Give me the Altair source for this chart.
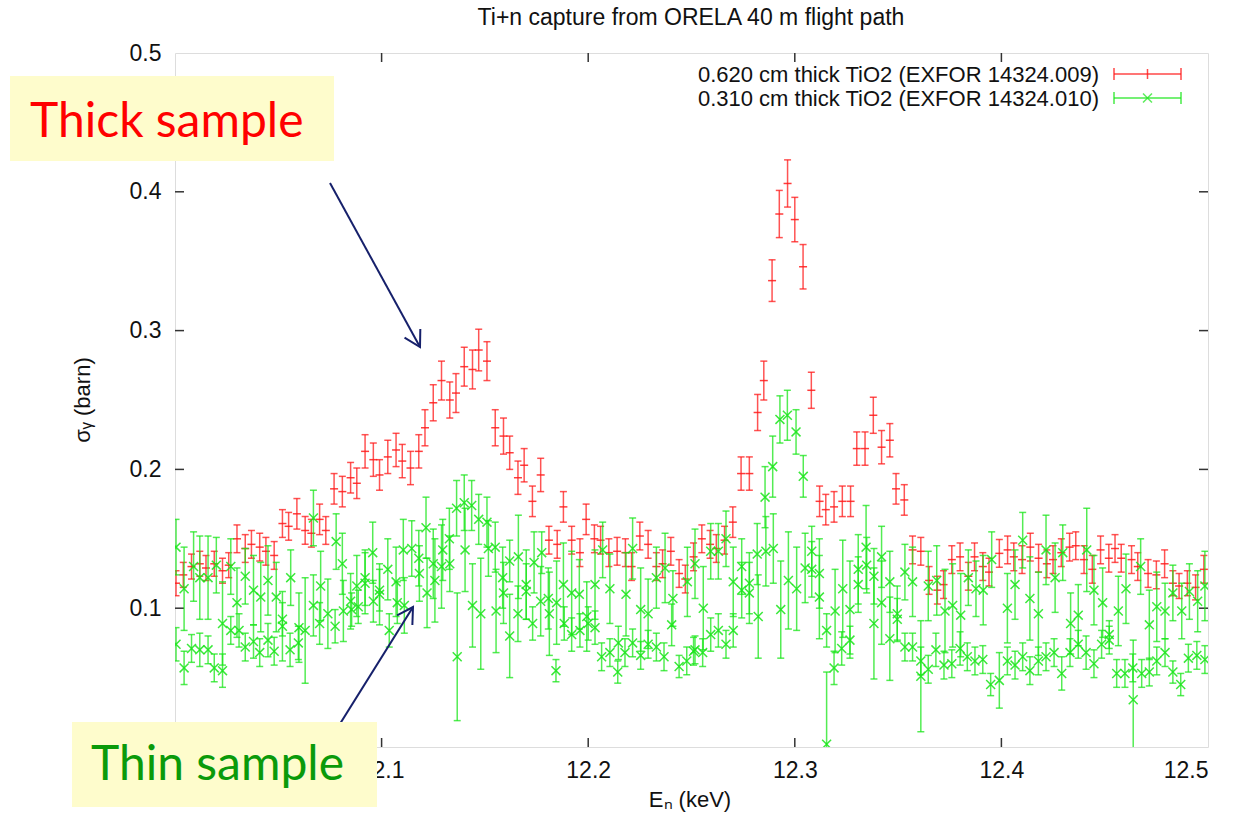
import altair as alt
import pandas as pd

# ---------------- data ----------------
red_E = [12.0005, 12.004, 12.008, 12.012, 12.015, 12.019, 12.023, 12.026, 12.030, 12.034,
         12.037, 12.041, 12.044, 12.048, 12.052, 12.055, 12.059, 12.063, 12.066, 12.070,
         12.073, 12.077, 12.081, 12.085, 12.088, 12.092, 12.096, 12.099, 12.103, 12.107,
         12.110, 12.114, 12.118, 12.121, 12.125, 12.129, 12.133, 12.136, 12.140, 12.144,
         12.147, 12.151, 12.155, 12.159, 12.162, 12.166, 12.169, 12.173, 12.177, 12.181,
         12.185, 12.188, 12.192, 12.196, 12.199, 12.203, 12.206, 12.210, 12.214, 12.218,
         12.221, 12.225, 12.229, 12.233, 12.236, 12.240, 12.244, 12.247, 12.251, 12.255,
         12.259, 12.262, 12.266, 12.270, 12.274, 12.278, 12.282, 12.285, 12.289, 12.2925,
         12.2965, 12.300, 12.304, 12.308, 12.312, 12.315, 12.319, 12.323, 12.327, 12.330,
         12.334, 12.338, 12.342, 12.346, 12.349, 12.353, 12.357, 12.361, 12.365, 12.369,
         12.372, 12.376, 12.380, 12.384, 12.387, 12.391, 12.394, 12.399, 12.403, 12.406,
         12.410, 12.414, 12.418, 12.422, 12.425, 12.429, 12.433, 12.436, 12.440, 12.444,
         12.448, 12.452, 12.455, 12.458, 12.463, 12.466, 12.471, 12.475, 12.479, 12.483,
         12.486, 12.490, 12.494, 12.498]
red_s = [0.118, 0.124, 0.130, 0.132, 0.129, 0.132, 0.127, 0.131, 0.150, 0.143,
         0.146, 0.144, 0.141, 0.138, 0.161, 0.159, 0.168, 0.156, 0.154, 0.164,
         0.156, 0.186, 0.184, 0.194, 0.190, 0.213, 0.207, 0.196, 0.209, 0.214,
         0.206, 0.201, 0.213, 0.230, 0.248, 0.264, 0.250, 0.255, 0.274, 0.272,
         0.286, 0.278, 0.230, 0.224, 0.212, 0.194, 0.203, 0.177, 0.196, 0.149,
         0.146, 0.173, 0.149, 0.140, 0.164, 0.150, 0.149, 0.140, 0.141, 0.140,
         0.130, 0.152, 0.146, 0.130, 0.132, 0.141, 0.125, 0.121, 0.137, 0.150,
         0.146, 0.143, 0.149, 0.162, 0.197, 0.197, 0.241, 0.264, 0.336, 0.384,
         0.406, 0.380, 0.346, 0.257, 0.177, 0.171, 0.173, 0.177, 0.177, 0.215,
         0.215, 0.239, 0.216, 0.221, 0.186, 0.178, 0.142, 0.141, 0.120, 0.113,
         0.117, 0.135, 0.137, 0.123, 0.137, 0.130, 0.126, 0.1395, 0.142, 0.137,
         0.135, 0.144, 0.136, 0.132, 0.135, 0.140, 0.144, 0.145, 0.135, 0.128,
         0.142, 0.136, 0.143, 0.136, 0.135, 0.130, 0.125, 0.124, 0.132, 0.118,
         0.116, 0.118, 0.115, 0.128]
red_err = [0.009, 0.009, 0.009, 0.009, 0.009, 0.009, 0.009, 0.009, 0.010, 0.010,
           0.010, 0.010, 0.010, 0.010, 0.010, 0.010, 0.011, 0.010, 0.010, 0.011,
           0.010, 0.011, 0.011, 0.011, 0.011, 0.012, 0.012, 0.011, 0.012, 0.012,
           0.012, 0.012, 0.012, 0.013, 0.013, 0.014, 0.013, 0.014, 0.014, 0.014,
           0.015, 0.014, 0.013, 0.013, 0.012, 0.012, 0.012, 0.011, 0.012, 0.010,
           0.010, 0.011, 0.010, 0.010, 0.011, 0.010, 0.010, 0.010, 0.010, 0.010,
           0.010, 0.010, 0.010, 0.010, 0.010, 0.010, 0.010, 0.010, 0.010, 0.010,
           0.010, 0.010, 0.010, 0.011, 0.012, 0.012, 0.013, 0.014, 0.015, 0.017,
           0.017, 0.016, 0.016, 0.013, 0.011, 0.011, 0.011, 0.011, 0.011, 0.012,
           0.012, 0.013, 0.012, 0.012, 0.011, 0.011, 0.010, 0.010, 0.010, 0.010,
           0.010, 0.010, 0.010, 0.010, 0.010, 0.010, 0.010, 0.010, 0.010, 0.010,
           0.010, 0.010, 0.010, 0.010, 0.010, 0.010, 0.010, 0.010, 0.010, 0.010,
           0.010, 0.010, 0.010, 0.010, 0.010, 0.010, 0.010, 0.010, 0.010, 0.009,
           0.009, 0.009, 0.009, 0.010]

green_E = [
    12.0005, 12.0005, 12.0044, 12.0044, 12.008, 12.009, 12.012, 12.012, 12.016, 12.016,
    12.019, 12.020, 12.023, 12.023, 12.027, 12.027, 12.030, 12.031, 12.034, 12.034,
    12.038, 12.038, 12.041, 12.0415, 12.045, 12.045, 12.048, 12.049, 12.052, 12.052,
    12.0557, 12.056, 12.0597, 12.060, 12.063, 12.067, 12.067, 12.070, 12.0705, 12.074,
    12.0775, 12.078, 12.081, 12.0815, 12.085, 12.0855, 12.088, 12.0887, 12.092, 12.092,
    12.0957, 12.096, 12.099, 12.099, 12.103, 12.1037, 12.107, 12.1076, 12.1105, 12.111,
    12.1146, 12.118, 12.1183, 12.122, 12.1215,
    12.1258, 12.125, 12.129, 12.1296, 12.1328, 12.133, 12.1363, 12.1366, 12.140, 12.1404,
    12.1436, 12.144, 12.147, 12.148, 12.151, 12.1517, 12.155, 12.1554, 12.1586, 12.159,
    12.162, 12.162, 12.166, 12.1662, 12.170, 12.170, 12.1731, 12.1738, 12.177, 12.1775,
    12.1807, 12.1812, 12.1844, 12.1847, 12.188, 12.1884, 12.192, 12.192, 12.1957, 12.196,
    12.1993, 12.200, 12.2033, 12.2033, 12.207, 12.2065, 12.2105, 12.2105, 12.2143, 12.2146,
    12.2183, 12.2178, 12.2215, 12.2215, 12.2254, 12.2254, 12.229, 12.229, 12.233, 12.233,
    12.2367, 12.2372, 12.2404, 12.241, 12.244, 12.2477, 12.248, 12.251,
    12.2517, 12.2517, 12.2557, 12.2554, 12.2593, 12.2593, 12.263, 12.263, 12.2667, 12.2667,
    12.2702, 12.2702, 12.2743, 12.2743, 12.278, 12.278, 12.2818, 12.2823, 12.2856, 12.286,
    12.2893, 12.2896, 12.2928, 12.2932, 12.2964, 12.2969, 12.3006, 12.3009, 12.3041, 12.305,
    12.3082, 12.3082, 12.3119, 12.3119, 12.3154, 12.3154, 12.319, 12.3195, 12.3227, 12.3232,
    12.3267, 12.3267, 12.3307, 12.3307, 12.3345, 12.3348, 12.3383, 12.3383, 12.342, 12.342,
    12.346, 12.346, 12.3496, 12.3496, 12.3533, 12.3533, 12.357, 12.357, 12.361, 12.361,
    12.3646, 12.3646, 12.3683, 12.3687, 12.3722, 12.3727, 12.376,
    12.3764, 12.380, 12.3803, 12.3835, 12.384, 12.3872, 12.3877, 12.391, 12.3912, 12.3948,
    12.3953, 12.399, 12.4029, 12.4029, 12.4066, 12.4066, 12.4103, 12.4103, 12.4138, 12.4138,
    12.4179, 12.4179, 12.4216, 12.4216, 12.4255, 12.426, 12.4292, 12.4297, 12.4332, 12.4335,
    12.4372, 12.4372, 12.441, 12.4413, 12.4448, 12.4448, 12.4485, 12.449, 12.4522, 12.4522,
    12.4558, 12.4566, 12.4598, 12.4603, 12.4636, 12.4638, 12.4674, 12.4679, 12.4716, 12.4716,
    12.4752, 12.4752, 12.4792, 12.4792, 12.483, 12.483, 12.4868, 12.4873, 12.4905, 12.491,
    12.4946, 12.495, 12.4985, 12.4985]
green_s = [
    0.144, 0.074, 0.114, 0.057, 0.071, 0.130, 0.070, 0.122, 0.070, 0.122,
    0.057, 0.131, 0.055, 0.089, 0.130, 0.084, 0.104, 0.084, 0.072, 0.123,
    0.076, 0.113, 0.068, 0.108, 0.077, 0.120, 0.069, 0.108, 0.092, 0.087,
    0.070, 0.122, 0.075, 0.086, 0.084, 0.102, 0.165, 0.089, 0.116, 0.096,
    0.087, 0.148, 0.132, 0.098, 0.105, 0.099, 0.116, 0.101, 0.122, 0.118,
    0.140, 0.105, 0.110, 0.113, 0.128, 0.084, 0.119, 0.104, 0.142, 0.102,
    0.143, 0.136, 0.125, 0.111, 0.158,
    0.120, 0.132, 0.130, 0.142, 0.150, 0.132, 0.172, 0.065, 0.176, 0.142,
    0.174, 0.102, 0.164, 0.096, 0.162, 0.143, 0.144, 0.098, 0.122, 0.111,
    0.080, 0.134, 0.096, 0.137, 0.112, 0.117, 0.089, 0.133, 0.105, 0.140,
    0.107, 0.096, 0.055, 0.104, 0.117, 0.089, 0.111, 0.081, 0.110, 0.084,
    0.094, 0.089, 0.117, 0.086, 0.142, 0.065, 0.114, 0.068, 0.054, 0.075,
    0.110, 0.068, 0.143, 0.075, 0.099, 0.066, 0.096, 0.074, 0.072, 0.122,
    0.065, 0.129, 0.088, 0.107, 0.058, 0.062, 0.119, 0.069,
    0.132, 0.070, 0.100, 0.068, 0.141, 0.081, 0.141, 0.084, 0.150, 0.074,
    0.119, 0.084, 0.130, 0.113, 0.118, 0.111, 0.139, 0.094, 0.180, 0.141,
    0.202, 0.143, 0.236, 0.099, 0.239, 0.120, 0.227, 0.114, 0.195, 0.129,
    0.141, 0.128, 0.125, 0.108, 0.084, 0.002, 0.057, 0.098, 0.071, 0.114,
    0.077, 0.099, 0.128, 0.117, 0.144, 0.131, 0.089, 0.123, 0.137, 0.104,
    0.119, 0.078, 0.092, 0.096, 0.126, 0.072, 0.119, 0.072, 0.062, 0.051,
    0.056, 0.116, 0.070, 0.120, 0.059, 0.098, 0.060,
    0.102, 0.071, 0.095, 0.065, 0.122, 0.062, 0.114, 0.063, 0.113, 0.045,
    0.135, 0.048, 0.100, 0.062, 0.117, 0.059, 0.149, 0.065, 0.107, 0.055,
    0.096, 0.062, 0.142, 0.065, 0.068, 0.122, 0.053, 0.140, 0.068, 0.089,
    0.095, 0.074, 0.068, 0.142, 0.060, 0.113, 0.074, 0.104, 0.081, 0.077,
    0.053, 0.098, 0.053, 0.114, 0.057, 0.034, 0.130, 0.053, 0.088, 0.054,
    0.101, 0.062, 0.098, 0.068, 0.111, 0.054, 0.045, 0.098, 0.064, 0.112,
    0.066, 0.105, 0.063, 0.116]
green_err = [
    0.020, 0.012, 0.030, 0.012, 0.010, 0.025, 0.012, 0.030, 0.010, 0.030,
    0.010, 0.020, 0.012, 0.030, 0.020, 0.010, 0.025, 0.012, 0.010, 0.020,
    0.012, 0.025, 0.010, 0.025, 0.012, 0.025, 0.010, 0.025, 0.012, 0.025,
    0.012, 0.020, 0.012, 0.025, 0.038, 0.022, 0.020, 0.015, 0.025, 0.025,
    0.012, 0.020, 0.022, 0.022, 0.020, 0.012, 0.022, 0.012, 0.020, 0.022,
    0.022, 0.015, 0.022, 0.015, 0.022, 0.012, 0.025, 0.015, 0.022, 0.020,
    0.020, 0.020, 0.020, 0.025, 0.022,
    0.030, 0.025, 0.030, 0.022, 0.022, 0.020, 0.020, 0.046, 0.020, 0.030,
    0.018, 0.030, 0.018, 0.040, 0.018, 0.020, 0.018, 0.030, 0.022, 0.022,
    0.030, 0.015, 0.020, 0.030, 0.020, 0.025, 0.012, 0.022, 0.025, 0.015,
    0.022, 0.030, 0.008, 0.030, 0.030, 0.012, 0.030, 0.012, 0.025, 0.012,
    0.025, 0.012, 0.025, 0.012, 0.020, 0.010, 0.025, 0.010, 0.008, 0.012,
    0.030, 0.010, 0.022, 0.010, 0.030, 0.010, 0.025, 0.010, 0.010, 0.022,
    0.010, 0.025, 0.015, 0.020, 0.008, 0.010, 0.025, 0.010,
    0.025, 0.010, 0.030, 0.010, 0.020, 0.012, 0.020, 0.012, 0.020, 0.010,
    0.025, 0.012, 0.020, 0.020, 0.022, 0.022, 0.022, 0.030, 0.022, 0.025,
    0.022, 0.025, 0.017, 0.035, 0.018, 0.035, 0.016, 0.030, 0.015, 0.025,
    0.018, 0.020, 0.025, 0.030, 0.012, 0.052, 0.012, 0.030, 0.012, 0.035,
    0.010, 0.035, 0.025, 0.020, 0.030, 0.020, 0.040, 0.020, 0.022, 0.030,
    0.022, 0.030, 0.015, 0.020, 0.020, 0.010, 0.025, 0.010, 0.010, 0.040,
    0.010, 0.025, 0.012, 0.025, 0.010, 0.030, 0.010,
    0.030, 0.012, 0.030, 0.010, 0.020, 0.010, 0.020, 0.010, 0.025, 0.008,
    0.020, 0.020, 0.025, 0.010, 0.025, 0.010, 0.020, 0.010, 0.030, 0.010,
    0.030, 0.010, 0.025, 0.010, 0.010, 0.025, 0.012, 0.020, 0.010, 0.022,
    0.022, 0.010, 0.012, 0.030, 0.010, 0.025, 0.010, 0.025, 0.010, 0.010,
    0.010, 0.025, 0.010, 0.025, 0.010, 0.043, 0.020, 0.010, 0.025, 0.010,
    0.025, 0.010, 0.020, 0.010, 0.020, 0.008, 0.008, 0.020, 0.010, 0.020,
    0.010, 0.022, 0.010, 0.025]

x_ticks = [12.1, 12.2, 12.3, 12.4]
y_ticks = [0.1, 0.2, 0.3, 0.4]
# the "12" and "0" labels lie under the two note boxes in the reference
x_labels = [12.1, 12.2, 12.3, 12.4, 12.5]
y_labels = [0.1, 0.2, 0.3, 0.4, 0.5]

assert len(red_E) == len(red_s) == len(red_err)
assert len(green_E) == len(green_s) == len(green_err)

red = pd.DataFrame({"E": red_E, "s": red_s, "err": red_err})
red["lo"] = red["s"] - red["err"]
red["hi"] = red["s"] + red["err"]
green = pd.DataFrame({"E": green_E, "s": green_s, "err": green_err})
green["lo"] = green["s"] - green["err"]
green["hi"] = green["s"] + green["err"]

# ---------------- styling ----------------
W, H = 1033, 694
FONT = "Liberation Sans"
RED = "#ff1a1a"
GREEN = "#19e619"
NAVY = "#16206b"
XSCALE = alt.Scale(domain=[12.0, 12.5], nice=False, zero=False)
YSCALE = alt.Scale(domain=[0, 0.5], nice=False)

xaxis = alt.Axis(values=x_labels, format=".1f",
                 ticks=False, domain=False, grid=False, title=None, labelFont=FONT,
                 labelFontSize=23, labelColor="#111", labelPadding=12)
yaxis = alt.Axis(values=y_labels, format=".1f",
                 ticks=False, domain=False, grid=False, title=None, labelFont=FONT,
                 labelFontSize=23, labelColor="#111", labelPadding=14)


def X(field):
    return alt.X(field, type="quantitative", scale=XSCALE, axis=xaxis)


def Y(field):
    return alt.Y(field, type="quantitative", scale=YSCALE, axis=yaxis)


XSHAPE = "M-1,-1L1,1M-1,1L1,-1"


def series(df, color, marker):
    base = alt.Chart(df)
    bar = base.mark_rule(color=color, strokeWidth=1.5, opacity=0.75, clip=True).encode(
        x=X("E"), y=Y("lo"), y2="hi")
    cap_lo = base.mark_tick(color=color, orient="horizontal", size=7, thickness=1.5,
                            opacity=0.75, clip=True).encode(x=X("E"), y=Y("lo"))
    cap_hi = base.mark_tick(color=color, orient="horizontal", size=7, thickness=1.5,
                            opacity=0.75, clip=True).encode(x=X("E"), y=Y("hi"))
    if marker == "plus":
        mk = base.mark_tick(color=color, orient="horizontal", size=8, thickness=1.5,
                            opacity=0.85, clip=True).encode(x=X("E"), y=Y("s"))
    else:
        mk = base.mark_point(shape=XSHAPE, size=80, filled=False,
                             strokeWidth=1.5, color=color, opacity=0.85, clip=True).encode(
            x=X("E"), y=Y("s"))
    return [bar, cap_lo, cap_hi, mk]


one = pd.DataFrame({"k": [0]})

# inward mirrored ticks
xt = pd.DataFrame({"t": x_ticks})
yt = pd.DataFrame({"t": y_ticks})
tick_style = dict(color="#333", strokeWidth=1.5)
ticks = [
    alt.Chart(xt).mark_rule(**tick_style).encode(x=X("t"), y=alt.value(H), y2=alt.value(H - 9)),
    alt.Chart(xt).mark_rule(**tick_style).encode(x=X("t"), y=alt.value(0), y2=alt.value(9)),
    alt.Chart(yt).mark_rule(**tick_style).encode(y=Y("t"), x=alt.value(0), x2=alt.value(9)),
    alt.Chart(yt).mark_rule(**tick_style).encode(y=Y("t"), x=alt.value(W), x2=alt.value(W - 9)),
]


def txt(text, x, y, size=22, color="#111", font=FONT, align="center", baseline="alphabetic", angle=0):
    return alt.Chart(one).mark_text(text=text, font=font, fontSize=size, color=color,
                                    align=align, baseline=baseline, angle=angle).encode(
        x=alt.value(x), y=alt.value(y))


def rule(x, y, x2, y2, color, width=1.5, opacity=1.0):
    return alt.Chart(one).mark_rule(color=color, strokeWidth=width, opacity=opacity).encode(
        x=alt.value(x), y=alt.value(y), x2=alt.value(x2), y2=alt.value(y2))


# titles
titles = [
    txt("Ti+n capture from ORELA 40 m flight path", 516, -28, size=23),
    txt("Eₙ (keV)", 515, 754, size=22),
    txt("σᵧ (barn)", -92, 347, size=22, baseline="middle", angle=270),
]

# legend (top right, inside the frame)
legend = [
    txt("0.620 cm thick TiO2 (EXFOR 14324.009)", 924, 29, size=22, align="right"),
    txt("0.310 cm thick TiO2 (EXFOR 14324.010)", 924, 53, size=22, align="right"),
    rule(939, 21, 1006, 21, RED, opacity=0.8),
    rule(939, 15, 939, 27, RED, opacity=0.8),
    rule(1006, 15, 1006, 27, RED, opacity=0.8),
    rule(972.5, 16, 972.5, 26, RED, opacity=0.8),
    rule(939, 45, 1006, 45, GREEN, opacity=0.8),
    rule(939, 39, 939, 51, GREEN, opacity=0.8),
    rule(1006, 39, 1006, 51, GREEN, opacity=0.8),
    alt.Chart(one).mark_point(shape=XSHAPE, size=80, filled=False,
                              strokeWidth=1.5, color=GREEN).encode(x=alt.value(972.5), y=alt.value(45)),
]

# annotations: arrows and labelled boxes
ARROW = "M-0.5,-0.866L0,0L0.5,-0.866"
annotations = [
    rule(155, 130, 245, 294, NAVY, width=2),
    alt.Chart(one).mark_point(shape=ARROW, size=1300, filled=False, strokeWidth=2, color=NAVY,
                              angle=331, opacity=1).encode(x=alt.value(245), y=alt.value(294)),
    rule(163, 674, 238, 554, NAVY, width=2),
    alt.Chart(one).mark_point(shape=ARROW, size=1300, filled=False, strokeWidth=2, color=NAVY,
                              angle=212, opacity=1).encode(x=alt.value(238), y=alt.value(554)),
    alt.Chart(one).mark_rect(color="#fefccc").encode(
        x=alt.value(-165), x2=alt.value(159), y=alt.value(23), y2=alt.value(108)),
    txt("Thick sample", -145, 84, size=48, color="#ff0000", font="Lato", align="left"),
    alt.Chart(one).mark_rect(color="#fefccc").encode(
        x=alt.value(-103), x2=alt.value(202), y=alt.value(669), y2=alt.value(754)),
    txt("Thin sample", -84, 727, size=48, color="#0a9a0a", font="Lato", align="left"),
]

layers = ticks + series(red, RED, "plus") + series(green, GREEN, "cross") + titles + legend + annotations

chart = alt.layer(*layers).properties(
    width=W, height=H,
    autosize=alt.AutoSizeParams(type="none"),
    padding={"left": 175, "top": 53, "right": 28, "bottom": 69},
).configure_view(stroke="#333", strokeWidth=1.6).configure(background="white")

chart.save("out.html", embed_options={"renderer": "svg", "actions": False})
